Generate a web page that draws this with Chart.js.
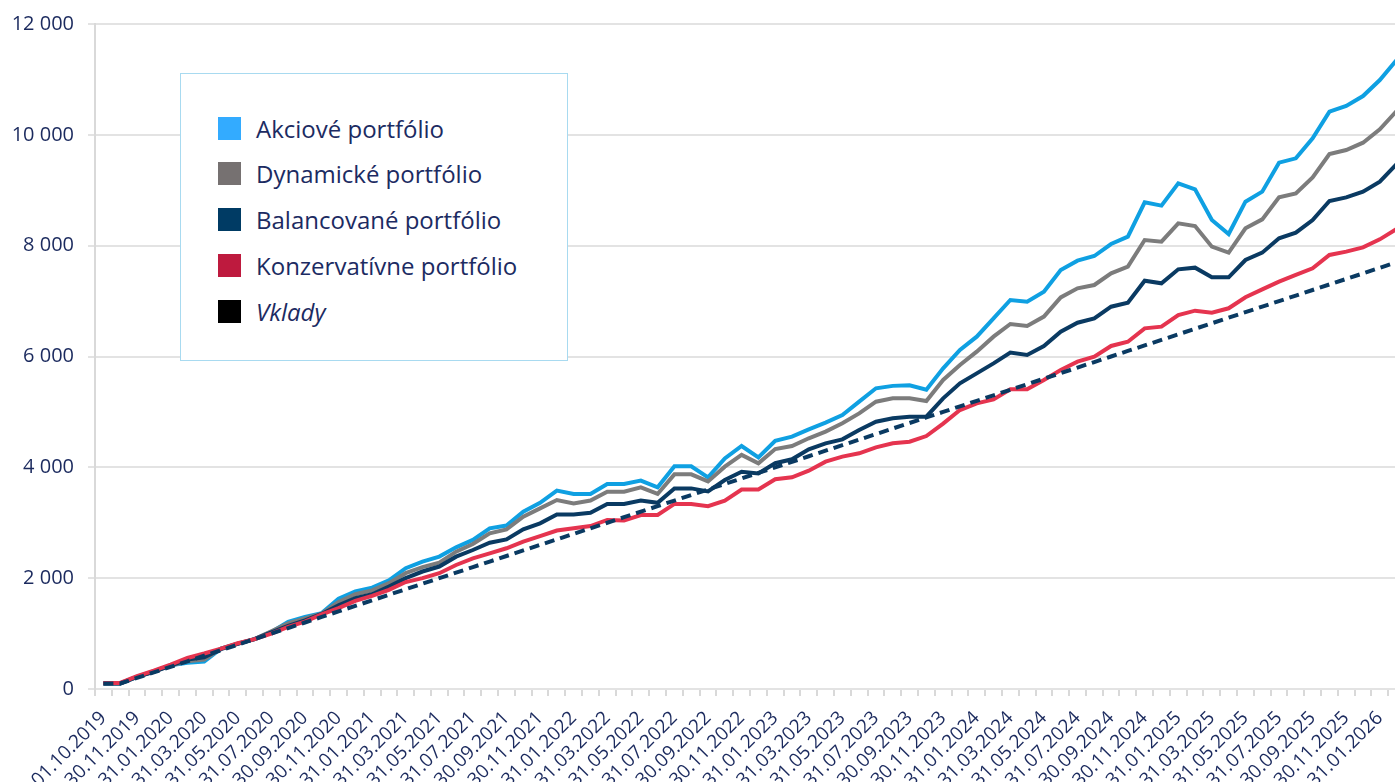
<!DOCTYPE html>
<html>
<head>
<meta charset="utf-8">
<script src="https://cdn.jsdelivr.net/npm/chart.js@4/dist/chart.umd.min.js"></script>
<style>
  html, body { margin: 0; padding: 0; background: #fff; overflow: hidden; width: 1395px; height: 782px; }
  #wrap { position: relative; width: 1405px; height: 782px; }
  #legend { position: absolute; left: 180px; top: 73px; width: 386px; height: 286px;
            border: 1px solid #A8DAF0; background: #fff; font-family: "Open Sans", sans-serif; }
  .item { position: absolute; left: 37px; height: 26px; display: flex; align-items: center;
          font-size: 24px; color: #1C2B62; white-space: nowrap; }
  .sw { width: 23px; height: 23px; margin-right: 15px; flex: none; }
</style>
</head>
<body>
<div id="wrap">
  <canvas id="c" width="1405" height="782"></canvas>
  <div id="legend"></div>
</div>
<script>
const categories = ['01.10.2019','31.10.2019','30.11.2019','31.12.2019','31.01.2020','29.02.2020','31.03.2020','30.04.2020','31.05.2020','30.06.2020','31.07.2020','31.08.2020','30.09.2020','31.10.2020','30.11.2020','31.12.2020','31.01.2021','28.02.2021','31.03.2021','30.04.2021','31.05.2021','30.06.2021','31.07.2021','31.08.2021','30.09.2021','31.10.2021','30.11.2021','31.12.2021','31.01.2022','28.02.2022','31.03.2022','30.04.2022','31.05.2022','30.06.2022','31.07.2022','31.08.2022','30.09.2022','31.10.2022','30.11.2022','31.12.2022','31.01.2023','28.02.2023','31.03.2023','30.04.2023','31.05.2023','30.06.2023','31.07.2023','31.08.2023','30.09.2023','31.10.2023','30.11.2023','31.12.2023','31.01.2024','29.02.2024','31.03.2024','30.04.2024','31.05.2024','30.06.2024','31.07.2024','31.08.2024','30.09.2024','31.10.2024','30.11.2024','31.12.2024','31.01.2025','28.02.2025','31.03.2025','30.04.2025','31.05.2025','30.06.2025','31.07.2025','31.08.2025','30.09.2025','31.10.2025','30.11.2025','31.12.2025','31.01.2026','28.02.2026'];

const akciove = [100,100,220,320,430,475,495,730,820,900,1030,1210,1300,1370,1630,1760,1830,1960,2180,2300,2390,2557,2690,2900,2950,3200,3360,3580,3520,3520,3700,3700,3760,3640,4020,4020,3820,4160,4385,4180,4480,4553,4686,4806,4944,5185,5426,5470,5480,5400,5787,6117,6358,6689,7020,6990,7170,7561,7729,7813,8030,8162,8782,8722,9125,9017,8463,8210,8794,8975,9498,9576,9937,10418,10520,10700,10989,11350];

const dynamicke = [100,100,220,315,425,500,530,730,820,900,1040,1185,1275,1360,1570,1710,1780,1910,2090,2200,2280,2478,2617,2810,2880,3110,3260,3410,3350,3400,3560,3560,3640,3520,3873,3873,3745,4012,4225,4072,4330,4385,4524,4644,4794,4974,5185,5245,5245,5197,5576,5846,6087,6358,6586,6550,6720,7067,7230,7290,7501,7621,8102,8072,8403,8355,7982,7874,8313,8475,8872,8944,9233,9654,9726,9858,10099,10430];

const balancovane = [100,100,220,310,420,530,570,720,815,900,1020,1140,1240,1355,1510,1640,1710,1850,2000,2120,2210,2388,2508,2640,2700,2880,2990,3150,3150,3180,3340,3340,3400,3360,3620,3620,3565,3770,3920,3890,4075,4145,4325,4433,4505,4673,4824,4884,4914,4914,5245,5515,5696,5876,6070,6027,6190,6448,6610,6689,6899,6971,7368,7320,7573,7603,7429,7429,7741,7874,8132,8235,8463,8806,8872,8975,9155,9470];

const konzervativne = [110,110,230,330,440,560,640,730,825,900,1000,1120,1215,1345,1460,1590,1680,1790,1930,2000,2090,2238,2358,2448,2540,2659,2760,2860,2900,2940,3050,3040,3140,3140,3340,3340,3300,3400,3600,3600,3785,3820,3940,4103,4193,4253,4360,4433,4463,4565,4790,5034,5154,5226,5407,5407,5576,5756,5906,5997,6190,6267,6508,6538,6749,6827,6791,6870,7068,7212,7350,7471,7591,7832,7892,7970,8114,8300];

const vklady = [100,100,200,300,400,500,600,700,800,900,1000,1100,1200,1300,1400,1500,1600,1700,1800,1900,2000,2100,2200,2300,2400,2500,2600,2700,2800,2900,3000,3100,3200,3300,3400,3500,3600,3700,3800,3900,4000,4100,4200,4300,4400,4500,4600,4700,4800,4900,5000,5100,5200,5300,5400,5500,5600,5700,5800,5900,6000,6100,6200,6300,6400,6500,6600,6700,6800,6900,7000,7100,7200,7300,7400,7500,7600,7700];

const yTicks = [0, 2000, 4000, 6000, 8000, 10000, 12000];

const seriesNames = ['Akciové portfólio','Dynamické portfólio','Balancované portfólio','Konzervatívne portfólio','Vklady'];
const lineColors = ['#0FA0E2','#7C7C7C','#0A3A62','#E5344F','#0A3A62'];
const legendColors = ['#33ABFF','#767171','#003B64','#BE1A3E','#000000'];

const fmt = v => String(v).replace(/\B(?=(\d{3})+(?!\d))/g, '\u00a0');
const txt = '#1B2A5E';
const yFont = { family: '"Open Sans", sans-serif', size: 20 };
const xFont = { family: '"Open Sans", sans-serif', size: 19 };

const values = [akciove, dynamicke, balancovane, konzervativne, vklady];
const datasets = values.map((d, i) => ({
  label: seriesNames[i],
  data: d,
  borderColor: lineColors[i],
  backgroundColor: legendColors[i],
  borderWidth: 4,
  borderDash: i === 4 ? [10, 6] : [],
  pointRadius: 0,
  tension: 0,
  fill: false,
  order: 4 - i
}));

new Chart(document.getElementById('c'), {
  type: 'line',
  data: { labels: categories, datasets },
  options: {
    responsive: false,
    devicePixelRatio: 1,
    animation: false,
    layout: { padding: { top: 24, right: 0, left: 0, bottom: 0 } },
    plugins: { legend: { display: false }, tooltip: { enabled: false } },
    scales: {
      x: {
        type: 'category',
        offset: true,
        afterFit: s => { s.height = 93; s.paddingLeft = 0; s.paddingRight = 0; },
        grid: { offset: true, drawOnChartArea: false, drawTicks: true, tickLength: 7, color: '#D9D9D9', lineWidth: 2 },
        border: { display: false },
        ticks: {
          autoSkip: false, minRotation: 45, maxRotation: 45, padding: 11,
          color: txt, font: xFont,
          callback: (v, i) => (i % 2 === 0 ? categories[i] : '')
        }
      },
      y: {
        min: 0, max: 12000,
        afterFit: s => { s.width = 95; s.paddingTop = 0; s.paddingBottom = 0; },
        afterBuildTicks: s => { s.ticks = yTicks.map(v => ({ value: v })); },
        grid: { color: '#E3E3E3', lineWidth: 2, tickLength: 7, drawTicks: true },
        border: { display: true, color: '#D9D9D9', width: 2 },
        ticks: { color: txt, font: yFont, padding: 14, callback: v => fmt(v) }
      }
    }
  }
});

const lg = document.getElementById('legend');
const rowTops = [41, 86, 132, 178, 224];
seriesNames.forEach((n, i) => {
  const it = document.createElement('div');
  it.className = 'item';
  it.style.top = rowTops[i] + 'px';
  const sw = document.createElement('span');
  sw.className = 'sw';
  sw.style.background = legendColors[i];
  const t = document.createElement('span');
  t.textContent = n;
  if (i === 4) t.style.fontStyle = 'italic';
  it.appendChild(sw); it.appendChild(t);
  lg.appendChild(it);
});
</script>
</body>
</html>
